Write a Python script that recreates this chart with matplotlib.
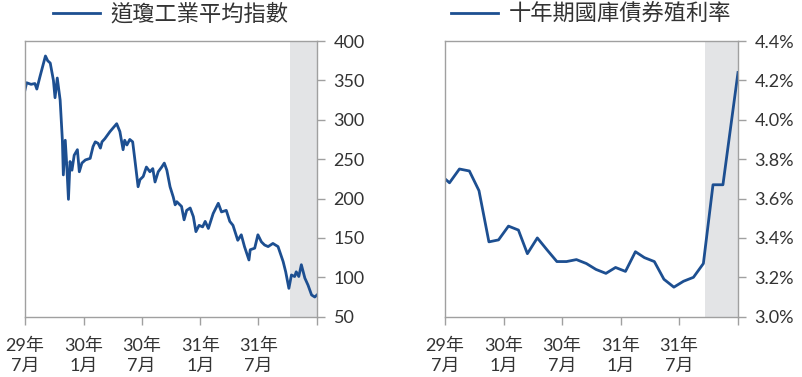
import pandas as pd
import matplotlib.pyplot as plt
from matplotlib.ticker import FuncFormatter

plt.rcParams['font.family'] = ['Lato', 'Noto Sans CJK TC', 'DejaVu Sans']

# Dow Jones Industrial Average
dow_dates = ['1929-07-01', '1929-07-06', '1929-07-20', '1929-08-01', '1929-08-07',
             '1929-08-17', '1929-09-03', '1929-09-10', '1929-09-18', '1929-09-28',
             '1929-10-03', '1929-10-10', '1929-10-19', '1929-10-26', '1929-10-29',
             '1929-11-04', '1929-11-09', '1929-11-14', '1929-11-19', '1929-11-25',
             '1929-12-02', '1929-12-12', '1929-12-18', '1929-12-26', '1930-01-06',
             '1930-01-21', '1930-01-30', '1930-02-06', '1930-02-15', '1930-02-22',
             '1930-02-27', '1930-03-08', '1930-03-24', '1930-04-14', '1930-04-24',
             '1930-05-04', '1930-05-09', '1930-05-16', '1930-05-25', '1930-06-03',
             '1930-06-10', '1930-06-20', '1930-06-26', '1930-07-06', '1930-07-16',
             '1930-07-27', '1930-08-05', '1930-08-12', '1930-08-22', '1930-09-02',
             '1930-09-10', '1930-09-18', '1930-09-28', '1930-10-08', '1930-10-14',
             '1930-10-19', '1930-10-29', '1930-11-03', '1930-11-11', '1930-11-19',
             '1930-11-30', '1930-12-10', '1930-12-18', '1930-12-28', '1931-01-08',
             '1931-01-16', '1931-01-26', '1931-02-10', '1931-02-26', '1931-03-08',
             '1931-03-23', '1931-04-03', '1931-04-13', '1931-04-28', '1931-05-09',
             '1931-05-19', '1931-06-02', '1931-06-06', '1931-06-20', '1931-06-30',
             '1931-07-11', '1931-07-21', '1931-08-01', '1931-08-16', '1931-09-01',
             '1931-09-17', '1931-09-25', '1931-10-05', '1931-10-13', '1931-10-23',
             '1931-10-28', '1931-11-05', '1931-11-13', '1931-11-24', '1931-12-04',
             '1931-12-15', '1931-12-25', '1932-01-01']
dow_values = [338, 347, 345, 346, 339,
              355, 381, 375, 372, 350,
              328, 353, 325, 274, 230,
              274, 240, 199, 247, 236,
              255, 262, 234, 245, 249,
              251, 266, 272, 270, 264,
              272, 276, 285, 295, 285,
              262, 274, 268, 275, 272,
              249, 215, 224, 228, 240,
              234, 238, 221, 234, 240,
              245, 236, 215, 202, 192,
              196, 192, 190, 173, 185,
              188, 177, 158, 166, 164,
              171, 162, 181, 194, 183,
              185, 171, 166, 147, 154,
              139, 122, 135, 137, 154,
              145, 141, 139, 143, 139,
              120, 107, 86, 103, 101,
              107, 101, 116, 99, 90,
              77.6, 75, 77.6]

# 10-year Treasury yield, monthly (%)
yield_months = pd.date_range('1929-07-01', periods=29, freq='MS')
yield_values = [3.68, 3.75, 3.74, 3.64, 3.38, 3.39, 3.46, 3.44, 3.32, 3.40,
                3.34, 3.28, 3.28, 3.29, 3.27, 3.24, 3.22, 3.25, 3.23, 3.33,
                3.30, 3.28, 3.19, 3.15, 3.18, 3.20, 3.27, 3.67, 3.67]
yield_start, yield_end = 3.70, 4.24

tick_dates = ['1929-07-01', '1930-01-01', '1930-07-01', '1931-01-01', '1931-07-01', '1932-01-01']
tick_labels = ['29年\n7月', '30年\n1月', '30年\n7月', '31年\n1月', '31年\n7月', '']

line_color = '#1d4f91'
shade_color = '#e3e4e6'
spine_color = '#a0a0a0'
text_color = '#333333'

fig = plt.figure(figsize=(8.02, 3.77), dpi=100)
ax1 = fig.add_axes([25 / 802, 60.3 / 377, 292 / 802, 275.7 / 377])
ax2 = fig.add_axes([445 / 802, 60.3 / 377, 293 / 802, 275.7 / 377])

x_dow = pd.to_datetime(dow_dates)
ax1.plot(x_dow, dow_values, color=line_color, lw=2.0, label='道瓊工業平均指數')
ax1.axvspan(pd.Timestamp('1931-10-10'), pd.Timestamp('1932-01-01'), color=shade_color, lw=0)
ax1.set_ylim(50, 400)
ax1.set_yticks(range(50, 401, 50))

x_yield = [pd.Timestamp('1929-07-01')] + list(yield_months + pd.Timedelta(days=14)) + [pd.Timestamp('1932-01-01')]
y_yield = [yield_start] + yield_values + [yield_end]
ax2.plot(x_yield, y_yield, color=line_color, lw=2.0, label='十年期國庫債券殖利率')
ax2.axvspan(pd.Timestamp('1931-09-21'), pd.Timestamp('1932-01-01'), color=shade_color, lw=0)
ax2.set_ylim(3.0, 4.4)
ax2.set_yticks([3.0, 3.2, 3.4, 3.6, 3.8, 4.0, 4.2, 4.4])
ax2.yaxis.set_major_formatter(FuncFormatter(lambda v, p: f'{v:.1f}%'))

for ax in (ax1, ax2):
    ax.set_xlim(pd.Timestamp('1929-07-01'), pd.Timestamp('1932-01-01'))
    ax.set_xticks(pd.to_datetime(tick_dates))
    ax.set_xticklabels(tick_labels)
    ax.yaxis.tick_right()
    for s in ax.spines.values():
        s.set_color(spine_color)
        s.set_linewidth(1.0)
    ax.tick_params(axis='both', colors=spine_color, labelcolor=text_color,
                   labelsize=13, length=6, width=1.0)
    ax.tick_params(axis='y', pad=6)
    ax.tick_params(axis='x', pad=9)
    for lab in ax.get_xticklabels():
        lab.set_linespacing(1.3)
    leg = ax.legend(loc='lower center', bbox_to_anchor=(0.5, 1.0), frameon=False,
                    handlelength=2.1, handletextpad=0.5, borderaxespad=0.3,
                    prop={'family': ['Noto Sans CJK TC'], 'size': 16})
    for t in leg.get_texts():
        t.set_color(text_color)

fig.savefig('out.png', dpi=100)
